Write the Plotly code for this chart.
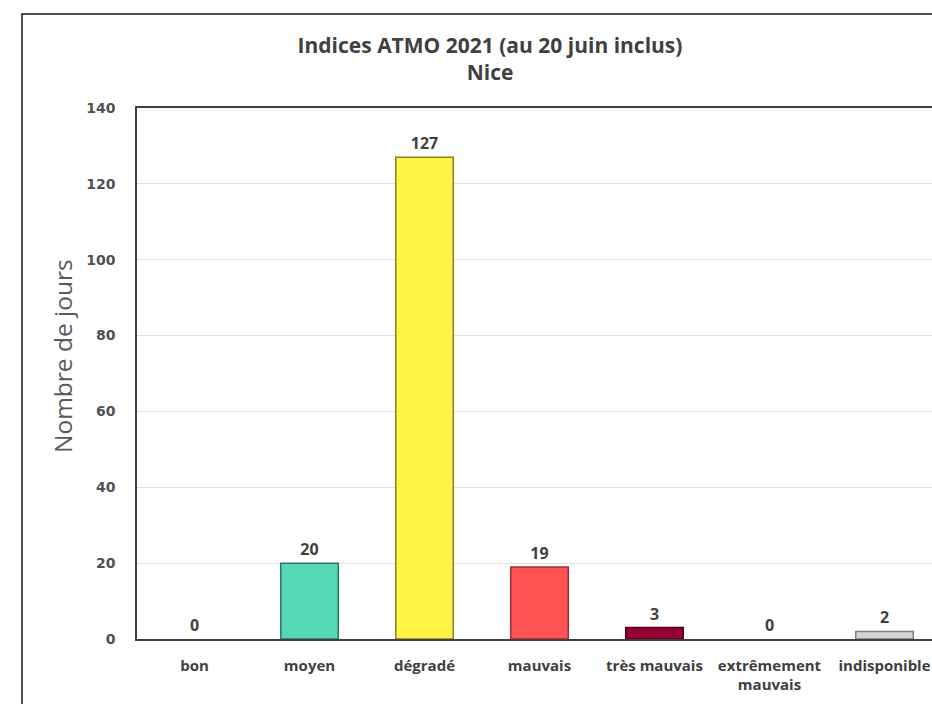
import plotly.graph_objects as go

categories = ["bon", "moyen", "dégradé", "mauvais", "très mauvais", "extrêmement<br>mauvais", "indisponible"]
values = [0, 20, 127, 19, 3, 0, 2]
colors = ["#50F0E6", "#55D9B5", "#FFF347", "#FF5252", "#960032", "#7D2181", "#D4D4D4"]
edge_colors = ["#2a8a80", "#2C7A65", "#8A8020", "#A03030", "#50001A", "#40104A", "#808080"]
y_ticks = [0, 20, 40, 60, 80, 100, 120, 140]

W, H = 932, 704
L, R, T, B = 137, 0, 108, 65
pw = W - L - R
ph = H - T - B

def px_x(x):
    return (x - L) / pw

def px_y(y):
    return (H - B - y) / ph

fig = go.Figure()
fig.add_trace(go.Bar(
    x=list(range(len(categories))),
    y=values,
    width=0.5,
    marker=dict(color=colors, line=dict(color=edge_colors, width=[0 if v == 0 else 1.5 for v in values])),
    text=[str(v) for v in values],
    textposition="outside",
    textfont=dict(family="Open Sans", size=16, color="#404040", weight="bold"),
    cliponaxis=False,
    hoverinfo="skip",
))

fig.update_layout(
    width=W, height=H,
    margin=dict(l=L, r=R, t=T, b=B, autoexpand=False),
    paper_bgcolor="white",
    plot_bgcolor="white",
    showlegend=False,
    title=dict(
        text="Indices ATMO 2021 (au 20 juin inclus)<br>Nice",
        x=px_x(490), xref="paper", xanchor="center",
        y=1 - 53 / H, yref="container", yanchor="middle",
        font=dict(family="Open Sans", size=21, color="#404040", weight="bold"),
    ),
    xaxis=dict(
        range=[-0.5, -0.5 + pw / 115.0],
        tickvals=list(range(len(categories))),
        ticktext=categories,
        tickfont=dict(family="Open Sans", size=15, color="#404040", weight="bold"),
        showgrid=False,
        showline=True, linecolor="#404040", linewidth=1.5,
        mirror=True,
        ticks="", ticklabelstandoff=12,
        zeroline=False,
        fixedrange=True,
    ),
    yaxis=dict(
        range=[0, 140],
        tickvals=y_ticks,
        tickfont=dict(family="DejaVu Sans", size=14, color="#505050", weight="bold"),
        showgrid=True, gridcolor="#E0E0E0", gridwidth=1,
        showline=True, linecolor="#404040", linewidth=1.5,
        mirror=True,
        ticks="", ticklabelstandoff=17,
        zeroline=False,
        fixedrange=True,
    ),
    annotations=[dict(
        text="Nombre de jours",
        x=px_x(62), y=px_y(356), xref="paper", yref="paper",
        xanchor="center", yanchor="middle",
        textangle=-90, showarrow=False,
        font=dict(family="Open Sans", size=24.5, color="#595959"),
    )],
    shapes=[dict(
        type="rect", xref="paper", yref="paper",
        x0=px_x(22), x1=1.2, y0=-0.3, y1=px_y(14),
        line=dict(color="#1a1a1a", width=1.5),
        fillcolor="rgba(0,0,0,0)", layer="above",
    )],
)

fig.write_html(
    "out.html",
    config={"displayModeBar": False},
    post_script="document.body.style.margin='0';document.body.style.overflow='hidden';",
)
